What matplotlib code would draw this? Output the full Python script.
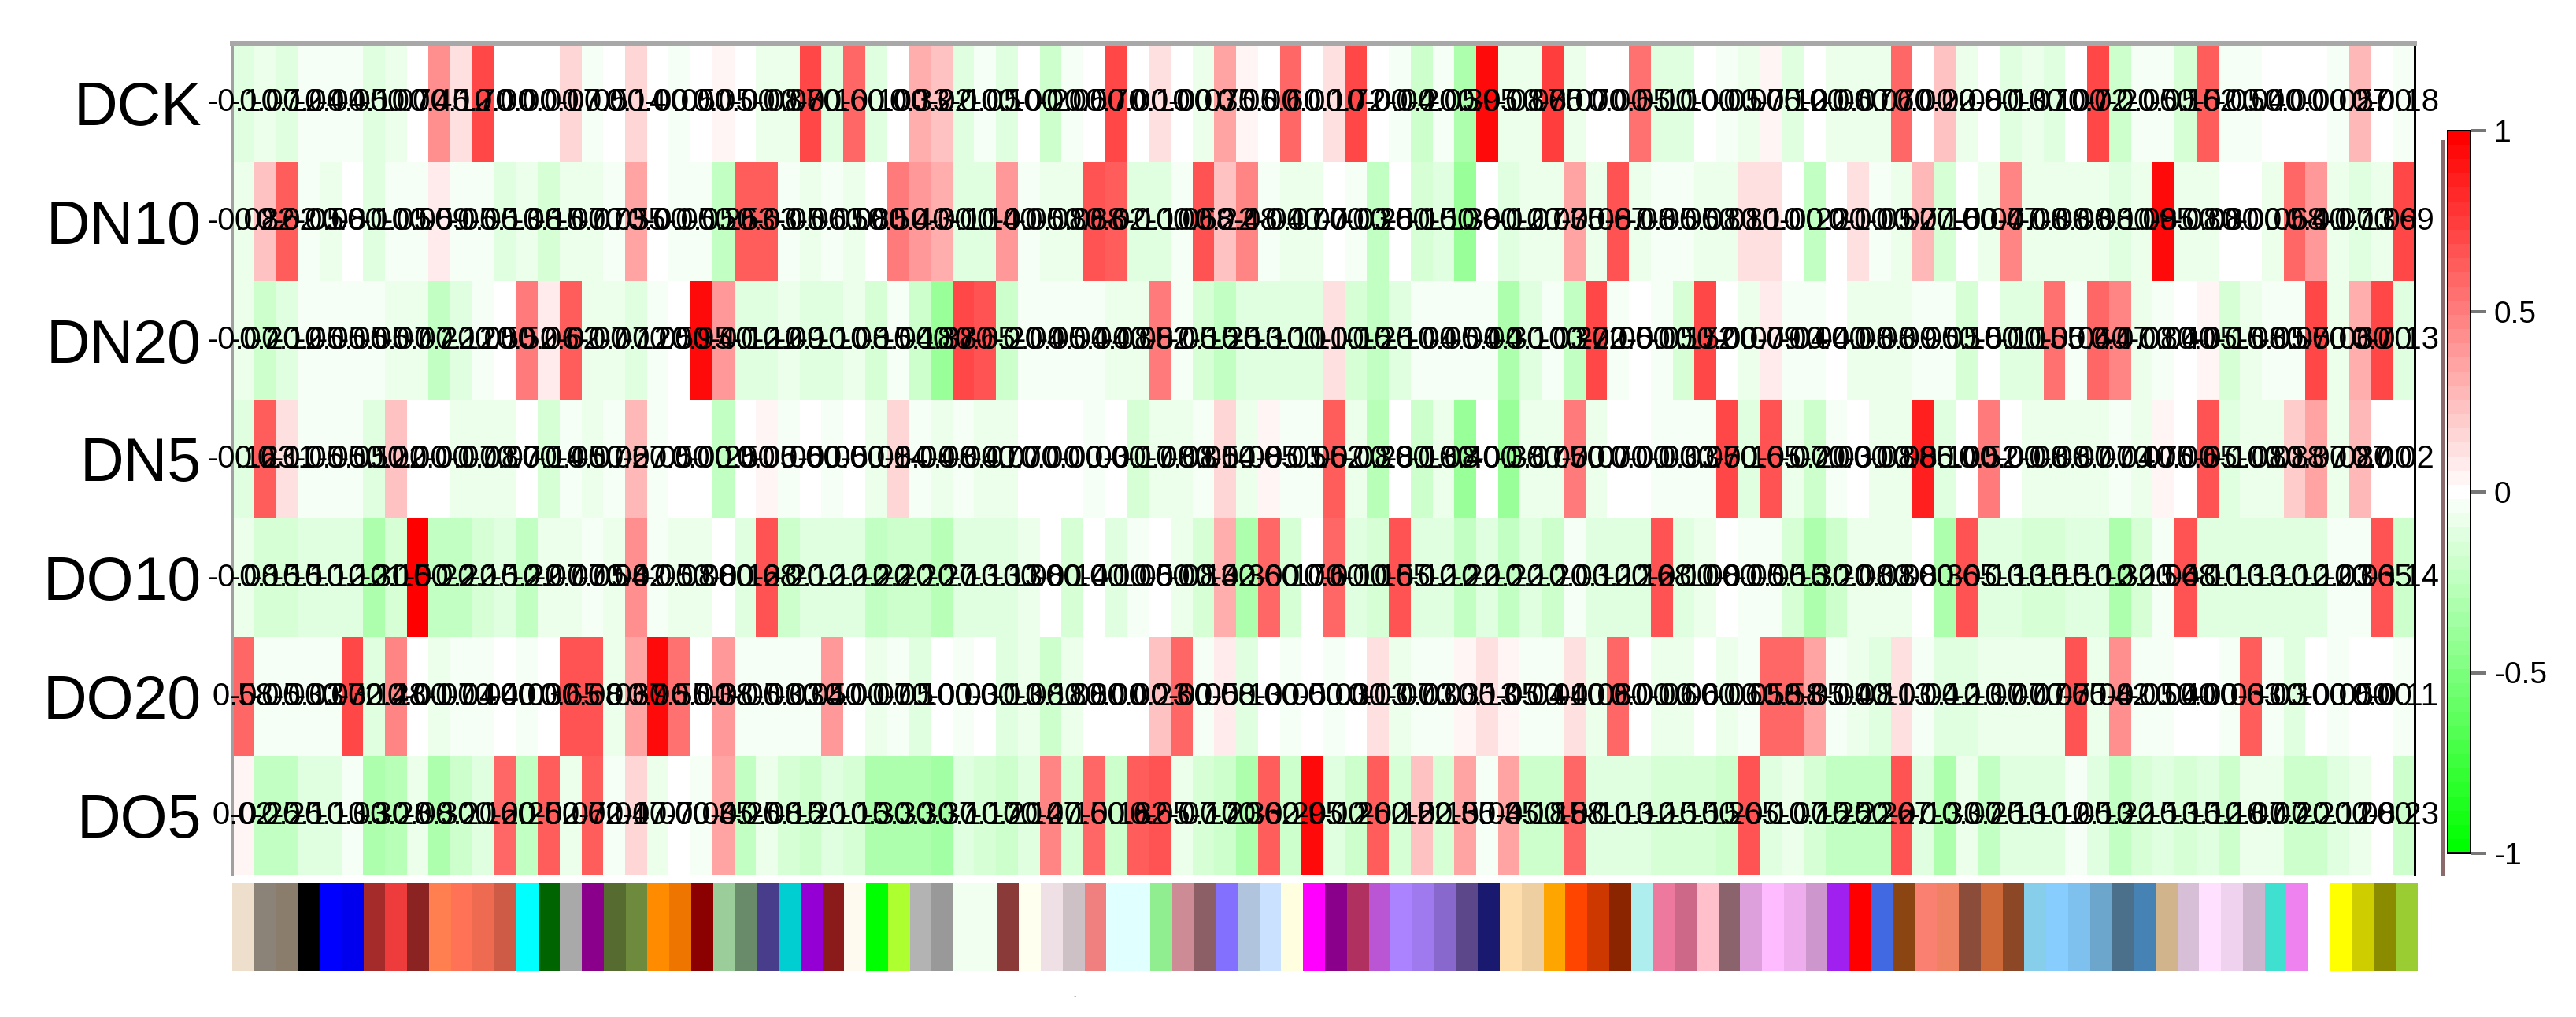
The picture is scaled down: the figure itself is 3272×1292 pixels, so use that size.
import numpy as np
import matplotlib.pyplot as plt
from matplotlib.cm import ScalarMappable
from matplotlib.colors import LinearSegmentedColormap, Normalize

plt.rcParams["font.family"] = ["Liberation Sans", "DejaVu Sans"]

W, H = 3273, 1292
PX = 72 / 100  # points per pixel at dpi=100

rows = ["DCK", "DN10", "DN20", "DN5", "DO10", "DO20", "DO5"]

dck = [-0.1, -0.07, -0.12, -0.04, -0.04, -0.05, -0.1, -0.07, 0, 0.45,
       0.12, 0.7, 0, 0, 0, 0.17, -0.05, 0, 0.14, 0,
       -0.05, 0, 0.05, 0, -0.08, -0.08, 0.7, -0.1, 0.6, -0.1,
       0, 0.33, 0.22, -0.1, -0.05, -0.1, 0, -0.2, -0.05, 0,
       0.7, 0, 0.1, 0, -0.07, 0.35, 0.05, 0, 0.6, 0,
       0.1, 0.72, 0, -0.04, -0.2, -0.05, -0.3, 0.95, -0.08, -0.08,
       0.75, -0.07, 0, 0, 0.55, -0.1, -0.1, 0, -0.05, -0.07,
       0.05, -0.12, 0, -0.06, -0.07, -0.07, 0.6, 0, 0.22, -0.08,
       0, -0.13, -0.07, -0.1, 0, 0.72, -0.2, -0.05, -0.05, -0.15,
       0.62, -0.05, -0.04, 0, 0, 0, -0.05, 0.27, 0, -0.03]
dn10 = [-0.08, 0.22, 0.62, -0.05, -0.08, 0, -0.1, -0.05, -0.05, 0.09,
        -0.05, -0.05, -0.13, -0.08, -0.15, -0.07, -0.07, -0.05, 0.35, 0,
        -0.05, -0.05, -0.25, 0.63, 0.63, -0.05, -0.06, -0.05, -0.08, 0,
        0.5, 0.4, 0.3, -0.1, -0.1, 0.4, -0.05, -0.08, -0.08, 0.68,
        0.62, -0.1, -0.1, -0.05, 0.68, 0.22, 0.48, -0.04, -0.07, -0.07,
        0, -0.03, -0.25, 0, -0.15, -0.1, -0.38, 0, -0.12, -0.07,
        -0.07, 0.35, -0.08, 0.67, -0.08, -0.05, -0.05, -0.08, -0.08, 0.1,
        0.1, 0, -0.22, 0, 0.1, -0.05, -0.07, 0.27, -0.15, 0,
        -0.07, 0.47, -0.08, -0.08, -0.08, -0.08, -0.1, -0.08, 0.95, -0.08,
        -0.08, 0, 0, -0.06, 0.58, 0.4, -0.07, -0.13, -0.09, 0.7]
dn20 = [-0.07, -0.2, -0.12, -0.05, -0.05, -0.05, -0.05, -0.07, -0.07, -0.22,
        -0.12, -0.05, 0, 0.52, 0.06, 0.62, -0.07, -0.07, -0.12, -0.05,
        0, 0.95, 0.4, -0.12, -0.12, -0.09, -0.1, -0.1, -0.08, -0.15,
        -0.04, -0.18, -0.38, 0.7, 0.65, -0.2, -0.04, -0.05, -0.04, -0.04,
        -0.08, -0.08, 0.52, -0.05, -0.15, -0.25, -0.13, -0.1, -0.1, -0.1,
        0.1, -0.15, -0.25, -0.1, -0.04, -0.05, -0.04, -0.04, -0.3, -0.1,
        -0.03, -0.22, 0.72, -0.05, 0, -0.05, -0.15, 0.72, 0, -0.07,
        0.09, -0.04, -0.04, 0, -0.08, -0.08, -0.09, -0.05, -0.05, -0.15,
        0, -0.1, -0.1, 0.55, -0.04, 0.6, 0.47, -0.08, -0.04, 0,
        0.05, -0.15, -0.08, -0.05, -0.05, 0.7, -0.06, 0.3, 0.7, -0.1]
dn5 = [-0.12, 0.63, 0.11, -0.05, -0.05, -0.05, -0.1, 0.22, 0, 0,
       -0.07, -0.08, -0.07, 0, -0.14, -0.05, -0.07, -0.05, 0.27, -0.05,
       0, 0, -0.25, 0, 0.05, -0.05, 0, -0.05, 0, -0.08,
       0.14, -0.04, -0.08, -0.04, -0.07, -0.07, 0, 0, 0, -0.03,
       0, -0.17, -0.08, -0.08, -0.05, 0.14, -0.08, 0.05, -0.05, -0.05,
       0.62, -0.08, -0.28, 0, -0.18, -0.08, -0.4, 0, -0.38, -0.07,
       -0.07, 0.5, -0.07, 0, 0, -0.03, -0.03, -0.05, 0.7, -0.1,
       0.65, -0.07, -0.2, -0.03, 0, -0.08, -0.08, 0.85, -0.1, 0,
       0.52, 0, -0.08, -0.08, -0.07, -0.07, -0.04, -0.07, 0.05, 0,
       0.65, -0.1, -0.08, -0.08, 0.18, 0.37, -0.08, 0.27, 0, 0]
do10 = [-0.08, -0.15, -0.15, -0.1, -0.12, -0.12, -0.3, -0.15, 1.0, -0.22,
        -0.22, -0.15, -0.12, -0.22, -0.07, -0.07, -0.05, -0.08, 0.42, -0.05,
        -0.08, -0.08, 0, -0.12, 0.68, -0.2, -0.12, -0.12, -0.12, -0.22,
        -0.2, -0.2, -0.27, -0.13, -0.13, -0.13, -0.08, 0, -0.14, 0,
        -0.1, -0.05, 0, -0.08, -0.14, 0.32, -0.3, 0.6, -0.17, 0,
        0.6, -0.1, -0.15, 0.65, -0.12, -0.12, -0.22, -0.1, -0.22, -0.1,
        -0.2, -0.03, -0.12, -0.12, -0.12, 0.68, -0.1, -0.08, 0, -0.05,
        -0.05, -0.15, -0.3, -0.2, -0.08, -0.08, -0.08, 0, -0.3, 0.65,
        -0.13, -0.13, -0.15, -0.15, -0.1, -0.12, -0.32, -0.15, -0.04, 0.68,
        -0.1, -0.13, -0.13, -0.1, -0.12, -0.12, -0.03, -0.03, 0.65, -0.18]
do20 = [0.58, -0.05, -0.03, -0.03, -0.03, 0.72, -0.12, 0.48, 0, -0.07,
        -0.04, -0.04, 0, -0.03, 0, 0.65, 0.68, -0.06, 0.37, 0.96,
        0.55, 0, 0.38, -0.05, -0.03, -0.03, -0.05, 0.4, 0, -0.07,
        -0.05, -0.1, 0, -0.03, 0, -0.13, -0.08, -0.18, -0.08, 0,
        0, 0, 0.23, 0.6, -0.05, 0.08, -0.13, 0, -0.05, 0,
        -0.03, 0, 0.13, -0.07, -0.03, -0.03, 0.05, 0.13, 0.05, -0.04,
        -0.04, 0.1, -0.08, 0.6, 0, -0.06, -0.06, 0, -0.06, -0.05,
        0.58, 0.58, 0.35, -0.04, -0.08, -0.1, 0.13, -0.04, -0.12, -0.13,
        -0.07, -0.07, -0.07, -0.07, 0.65, -0.08, 0.42, -0.05, -0.04, 0,
        0, -0.03, 0.63, -0.03, -0.1, 0, -0.05, 0, 0, -0.05]
do5 = [0.02, -0.25, -0.25, -0.1, -0.13, -0.03, -0.3, -0.28, -0.08, -0.3,
       -0.2, -0.12, 0.6, -0.25, 0.62, -0.07, 0.62, -0.04, 0.17, -0.07,
       0, -0.04, 0.35, -0.25, -0.08, -0.15, -0.2, -0.1, -0.15, -0.3,
       -0.3, -0.3, -0.37, -0.1, -0.17, -0.2, -0.12, 0.47, -0.15, 0.6,
       -0.18, 0.62, 0.65, -0.07, -0.17, -0.2, -0.33, 0.62, -0.2, 0.95,
       -0.12, -0.2, 0.62, -0.15, 0.22, -0.15, 0.35, -0.04, 0.35, -0.18,
       -0.18, 0.58, -0.1, -0.13, -0.12, -0.15, -0.15, -0.15, -0.2, 0.65,
       -0.1, -0.07, -0.15, -0.25, -0.22, -0.22, 0.67, -0.1, -0.33, -0.07,
       -0.25, -0.13, -0.1, -0.12, -0.05, -0.13, -0.22, -0.15, -0.13, -0.15,
       -0.12, -0.18, -0.07, -0.07, -0.2, -0.2, -0.12, -0.08, 0, -0.2]

# last column text is the only part that can be read
last_labels = ["-0.18", "0.69", "-0.13", "0.02", "-0.14", "-0.11", "-0.23"]

module_colors = [
    "#eedfcc", "#8b8378", "#8b7d6b", "#000000", "#0000ff", "#0000ee", "#a52a2a",
    "#ee3b3b", "#8b2323", "#ff7f50", "#ff7256", "#ee6a50", "#cd5b45", "#00ffff",
    "#006400", "#a9a9a9", "#8b008b", "#556b2f", "#6e8b3d", "#ff8c00", "#ee7600",
    "#8b0000", "#9bcd9b", "#698b69", "#483d8b", "#00ced1", "#9400d3", "#8b1a1a",
    "#fffaf0", "#00ff00", "#adff2f", "#b3b3b3", "#999999", "#f0fff0", "#f0fff0",
    "#8b3a3a", "#fffff0", "#eee0e5", "#cdc1c5", "#f08080", "#e0ffff", "#e0ffff",
    "#90ee90", "#cd8c95", "#8b5f65", "#8470ff", "#b0c4de", "#cae1ff", "#ffffe0",
    "#ff00ff", "#8b008b", "#b03060", "#ba55d3", "#ab82ff", "#9f79ee", "#8968cd",
    "#5d478b", "#191970", "#ffdead", "#eecfa1", "#ffa500", "#ff4500", "#cd3700",
    "#8b2500", "#afeeee", "#ee799f", "#cd6889", "#ffc0cb", "#8b636c", "#dda0dd",
    "#ffbbff", "#eeaeee", "#cd96cd", "#a020f0", "#ff0000", "#4169e1", "#8b4513",
    "#fa8072", "#ee8262", "#8b4c39", "#cd6839", "#8b4726", "#87ceeb", "#87ceff",
    "#7ec0ee", "#6ca6cd", "#4a708b", "#4682b4", "#d2b48c", "#d8bfd8", "#ffe1ff",
    "#eed2ee", "#cdb5cd", "#40e0d0", "#ee82ee", "#ffffff", "#ffff00", "#cdcd00",
    "#8b8b00", "#9acd32",
]

cbar_ticks = [-1, -0.5, 0, 0.5, 1]
cbar_ticklabels = ["-1", "-0.5", "0", "0.5", "1"]

values = np.array([dck, dn10, dn20, dn5, do10, do20, do5])
cmap = LinearSegmentedColormap.from_list("gwr", ["#00ff00", "#ffffff", "#ff0000"], N=51)
norm = Normalize(-1, 1)


def px_axes(fig, x0, y0, x1, y1):
    return fig.add_axes([x0 / W, 1 - y1 / H, (x1 - x0) / W, (y1 - y0) / H])


fig = plt.figure(figsize=(W / 100, H / 100), dpi=100)

# --- heatmap ---
ax = px_axes(fig, 295, 55, 3067, 1111)
ax.pcolormesh(values[::-1], cmap=cmap, norm=norm)
ax.set_xticks([])
ax.set_yticks(np.arange(len(rows)) + 0.5)
ax.set_yticklabels(rows[::-1], fontsize=77 * PX)
ax.tick_params(axis="y", length=0, pad=39 * PX)
for s, c, lw in [("top", "#a8a8a8", 6), ("left", "#a0a0a0", 4), ("right", "black", 3)]:
    ax.spines[s].set_color(c)
    ax.spines[s].set_linewidth(lw * PX)
ax.spines["bottom"].set_visible(False)

for r in range(values.shape[0]):
    for c in range(values.shape[1]):
        txt = last_labels[r] if c == values.shape[1] - 1 else f"{values[r, c]:.2f}"
        ax.text(c + 0.5, len(rows) - r - 0.5, txt, ha="center", va="center",
                fontsize=40 * PX, color="black", clip_on=False)

# --- module colour strip ---
ax2 = px_axes(fig, 295, 1122, 3071, 1234)
ax2.bar(np.arange(len(module_colors)), 1, width=1, color=module_colors, align="edge")
ax2.set_xlim(0, len(module_colors))
ax2.set_ylim(0, 1)
ax2.axis("off")

# --- colour bar ---
cax = px_axes(fig, 3109, 166, 3138, 1084)
cb = fig.colorbar(ScalarMappable(norm=norm, cmap=cmap), cax=cax)
cb.set_ticks(cbar_ticks)
cb.set_ticklabels(cbar_ticklabels)
cb.ax.tick_params(length=20 * PX, width=4 * PX, color="#777777", labelsize=39 * PX, pad=10 * PX)
cb.outline.set_linewidth(2 * PX)

# grey line left of the colour bar
fig.add_artist(plt.Line2D([3103 / W, 3103 / W], [1 - 180 / H, 1 - 1111 / H],
                          color="#8a6a6a", linewidth=4 * PX))

# stray mark under the strip
fig.text(1365 / W, 1 - 1267 / H, ".", fontsize=14, color="#a07070", ha="center", va="baseline")

plt.savefig("out.png", dpi=100)
plt.close()
